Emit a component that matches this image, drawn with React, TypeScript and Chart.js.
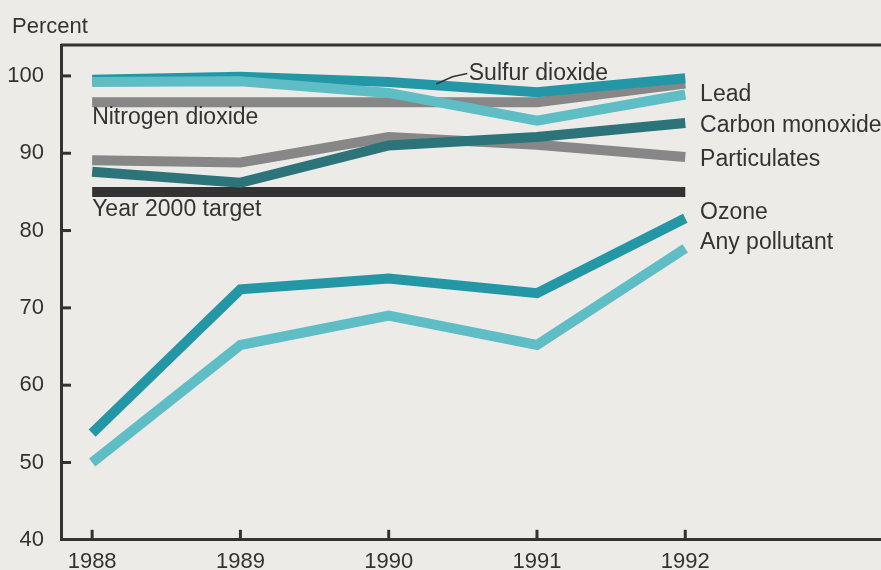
import React, { useEffect, useRef } from "react";
import { Chart, registerables } from "chart.js";

Chart.register(...registerables);

const years = [1988, 1989, 1990, 1991, 1992];
const ozone = [53.8, 72.4, 73.8, 71.9, 81.6];
const anyPollutant = [50.0, 65.2, 69.0, 65.2, 77.7];
const lead = [99.2, 99.3, 97.8, 94.2, 97.6];
const sulfurDioxide = [99.5, 99.9, 99.2, 97.9, 99.7];
const carbonMonoxide = [87.6, 86.2, 91.0, 92.1, 93.9];
const particulates = [89.1, 88.8, 92.1, 91.1, 89.5];
const nitrogenDioxide = [96.6, 96.6, 96.6, 96.6, 99.0];
const target2000 = [85, 85, 85, 85, 85];

const yTicks = [40, 50, 60, 70, 80, 90, 100];
const xTicks = [1988, 1989, 1990, 1991, 1992];

const TEAL = "#2497a7";
const LIGHT_TEAL = "#5fbdc5";
const DARK_TEAL = "#2c7479";
const GRAY = "#878787";
const INK = "#333333";
const FONT = "'Liberation Sans', Arial, Helvetica, sans-serif";

// annotation labels, anchored in data coordinates
const labels = [
  { text: "Nitrogen dioxide", x: 1988.0, y: 94.6 },
  { text: "Year 2000 target", x: 1988.0, y: 82.7 },
  { text: "Lead", x: 1992.1, y: 97.55 },
  { text: "Carbon monoxide", x: 1992.1, y: 93.55 },
  { text: "Particulates", x: 1992.1, y: 89.15 },
  { text: "Ozone", x: 1992.1, y: 82.3 },
  { text: "Any pollutant", x: 1992.1, y: 78.45 },
  { text: "Sulfur dioxide", x: 1990.54, y: 100.3 },
];

const toPoints = (vals: number[]) => years.map((yr, i) => ({ x: yr, y: vals[i] }));

const ds = (label: string, vals: number[], color: string) => ({
  label,
  data: toPoints(vals),
  borderColor: color,
  backgroundColor: color,
  borderWidth: 10,
  pointRadius: 0,
  tension: 0,
  borderCapStyle: "butt" as const,
  borderJoinStyle: "miter" as const,
  fill: false,
});

const decorPlugin = {
  id: "decor",
  afterDraw(chart: any) {
    const { ctx, chartArea, scales } = chart;
    const xs = scales.x;
    const ys = scales.y;
    ctx.save();
    ctx.strokeStyle = INK;
    ctx.lineWidth = 3;
    // top frame line
    ctx.beginPath();
    ctx.moveTo(chartArea.left, chartArea.top);
    ctx.lineTo(chartArea.right, chartArea.top);
    ctx.stroke();
    // inward y ticks
    yTicks.forEach((v) => {
      if (v === 40) return;
      const py = ys.getPixelForValue(v);
      ctx.beginPath();
      ctx.moveTo(chartArea.left, py);
      ctx.lineTo(chartArea.left + 10, py);
      ctx.stroke();
    });
    // inward x ticks
    xTicks.forEach((v) => {
      const px = xs.getPixelForValue(v);
      ctx.beginPath();
      ctx.moveTo(px, chartArea.bottom);
      ctx.lineTo(px, chartArea.bottom - 10);
      ctx.stroke();
    });
    // labels
    ctx.fillStyle = INK;
    ctx.font = `23px ${FONT}`;
    ctx.textBaseline = "middle";
    ctx.textAlign = "left";
    labels.forEach((l) => {
      ctx.fillText(l.text, xs.getPixelForValue(l.x), ys.getPixelForValue(l.y));
    });
    // Sulfur dioxide leader
    ctx.lineWidth = 1.5;
    ctx.beginPath();
    ctx.moveTo(xs.getPixelForValue(1990.32), ys.getPixelForValue(98.95));
    ctx.lineTo(xs.getPixelForValue(1990.43), ys.getPixelForValue(99.9));
    ctx.lineTo(xs.getPixelForValue(1990.53), ys.getPixelForValue(100.3));
    ctx.stroke();
    // axis title
    ctx.font = `22px ${FONT}`;
    ctx.textBaseline = "alphabetic";
    ctx.fillText("Percent", 12, 33);
    ctx.restore();
  },
};

export default function App() {
  const ref = useRef<HTMLCanvasElement | null>(null);
  useEffect(() => {
    document.body.style.margin = "0";
    document.body.style.background = "#ecebe7";
    const canvas = ref.current;
    if (!canvas) return;
    const chart = new Chart(canvas, {
      type: "line",
      data: {
        datasets: [
          ds("Ozone", ozone, TEAL),
          ds("Any pollutant", anyPollutant, LIGHT_TEAL),
          ds("Lead", lead, LIGHT_TEAL),
          ds("Sulfur dioxide", sulfurDioxide, TEAL),
          ds("Carbon monoxide", carbonMonoxide, DARK_TEAL),
          ds("Particulates", particulates, GRAY),
          ds("Nitrogen dioxide", nitrogenDioxide, GRAY),
          ds("Year 2000 target", target2000, INK),
        ],
      },
      options: {
        responsive: false,
        animation: false,
        layout: { padding: { top: 45, right: 0, left: 0, bottom: 0 } },
        plugins: {
          legend: { display: false },
          tooltip: { enabled: false },
          title: { display: false },
        },
        scales: {
          x: {
            type: "linear",
            min: 1987.79,
            max: 1993.32,
            afterBuildTicks: (s: any) => {
              s.ticks = xTicks.map((v) => ({ value: v }));
            },
            afterFit: (s: any) => {
              s.height = 29;
            },
            grid: { display: false, drawTicks: false },
            border: { display: true, color: INK, width: 3 },
            ticks: {
              padding: 9,
              color: INK,
              font: { family: FONT, size: 22 },
              callback: (v: any) => String(v),
              maxRotation: 0,
            },
          },
          y: {
            type: "linear",
            min: 40,
            max: 104,
            afterBuildTicks: (s: any) => {
              s.ticks = yTicks.map((v) => ({ value: v }));
            },
            afterFit: (s: any) => {
              s.width = 61;
            },
            grid: { display: false, drawTicks: false },
            border: { display: true, color: INK, width: 3 },
            ticks: {
              padding: 17,
              color: INK,
              font: { family: FONT, size: 22 },
              callback: (v: any) => String(v),
            },
          },
        },
      },
      plugins: [decorPlugin],
    });
    return () => chart.destroy();
  }, []);
  return (
    <div style={{ width: 881, height: 570, background: "#ecebe7" }}>
      <canvas ref={ref} width={881} height={570} style={{ display: "block" }} />
    </div>
  );
}
